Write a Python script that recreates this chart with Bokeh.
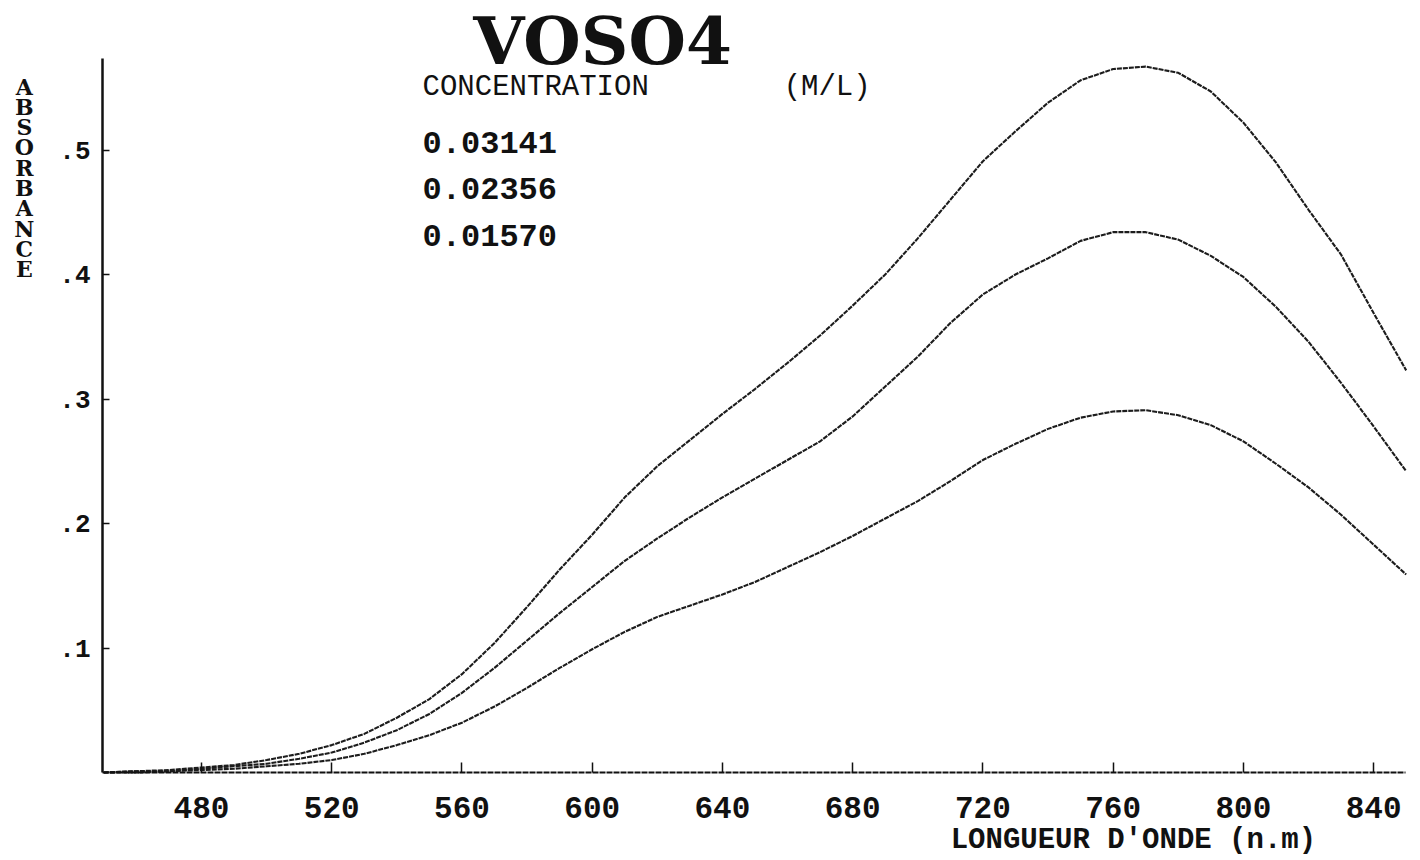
from bokeh.plotting import figure
from bokeh.models import FixedTicker, CustomJSTickFormatter, Label, Range1d, LinearAxis
from bokeh.embed import file_html
from bokeh.resources import INLINE

# Absorption spectra of VOSO4 solutions
wavelength = [450, 460, 470, 480, 490, 500, 510, 520, 530, 540,
              550, 560, 570, 580, 590, 600, 610, 620, 630, 640,
              650, 660, 670, 680, 690, 700, 710, 720, 730, 740,
              750, 760, 770, 780, 790, 800, 810, 820, 830, 840, 850]

abs_03141 = [0.000, 0.001, 0.002, 0.004, 0.006, 0.010, 0.015, 0.022, 0.031, 0.044,
             0.059, 0.079, 0.104, 0.133, 0.163, 0.191, 0.221, 0.246, 0.267, 0.288,
             0.308, 0.329, 0.351, 0.375, 0.400, 0.429, 0.460, 0.491, 0.515, 0.538,
             0.556, 0.565, 0.567, 0.562, 0.547, 0.522, 0.490, 0.452, 0.416, 0.369, 0.323]

abs_02356 = [0.000, 0.001, 0.001, 0.003, 0.005, 0.007, 0.011, 0.016, 0.024, 0.034,
             0.047, 0.064, 0.084, 0.106, 0.128, 0.149, 0.170, 0.188, 0.205, 0.221,
             0.236, 0.251, 0.266, 0.286, 0.310, 0.334, 0.361, 0.384, 0.400, 0.413,
             0.427, 0.434, 0.434, 0.428, 0.415, 0.398, 0.374, 0.346, 0.313, 0.278, 0.242]

abs_01570 = [0.000, 0.000, 0.001, 0.002, 0.003, 0.005, 0.007, 0.010, 0.015, 0.022,
             0.030, 0.040, 0.053, 0.068, 0.084, 0.099, 0.113, 0.125, 0.134, 0.143,
             0.153, 0.165, 0.177, 0.190, 0.204, 0.218, 0.234, 0.251, 0.264, 0.276,
             0.285, 0.290, 0.291, 0.287, 0.279, 0.266, 0.248, 0.229, 0.207, 0.183, 0.159]

concentrations = ["0.03141", "0.02356", "0.01570"]
series = [abs_03141, abs_02356, abs_01570]

x_ticks = [480, 520, 560, 600, 640, 680, 720, 760, 800, 840]
y_ticks = [0.1, 0.2, 0.3, 0.4, 0.5]

X_START, X_END = 449.6, 849.8
Y_START, Y_END = 0.0, 0.5735
MONO = "Liberation Mono"
INK = "#111111"

# The frame fills the page; the axes sit at fixed data positions inside it
p = figure(width=1420, height=860,
           x_range=Range1d(418.27, 854.4), y_range=Range1d(-0.07068, 0.62008),
           x_axis_location=None, y_axis_location=None,
           output_backend="svg", toolbar_location=None,
           min_border_left=0, min_border_right=0,
           min_border_top=0, min_border_bottom=0)
p.outline_line_color = None
p.background_fill_color = "white"
p.border_fill_color = "white"
p.xgrid.visible = False
p.ygrid.visible = False

for ys in series:
    p.line(wavelength, ys, line_color="#1c1c1c", line_width=2.1, line_dash="5 1")

# x axis: inward ticks, dotted baseline
xa = LinearAxis(fixed_location=Y_START, bounds=(X_START, X_END))
xa.ticker = FixedTicker(ticks=x_ticks, minor_ticks=[])
xa.axis_line_color = INK
xa.axis_line_width = 2
xa.axis_line_dash = "6 1"
xa.major_tick_in = 10
xa.major_tick_out = 0
xa.major_tick_line_color = INK
xa.major_tick_line_width = 1.5
xa.minor_tick_line_color = None
xa.major_label_standoff = 24
xa.major_label_text_font = MONO
xa.major_label_text_font_style = "bold"
xa.major_label_text_font_size = "31px"
xa.major_label_text_color = INK
p.add_layout(xa, "below")

# y axis: solid line, inward ticks, labels like ".5"
ya = LinearAxis(fixed_location=X_START, bounds=(Y_START, Y_END))
ya.ticker = FixedTicker(ticks=y_ticks, minor_ticks=[])
ya.formatter = CustomJSTickFormatter(code='return tick.toFixed(1).replace(/^0/, "");')
ya.axis_line_color = INK
ya.axis_line_width = 2.5
ya.major_tick_in = 7
ya.major_tick_out = 0
ya.major_tick_line_color = INK
ya.major_tick_line_width = 1.5
ya.minor_tick_line_color = None
ya.major_label_standoff = 12
ya.major_label_text_font = MONO
ya.major_label_text_font_style = "bold"
ya.major_label_text_font_size = "26px"
ya.major_label_text_color = INK
p.add_layout(ya, "left")

# title and concentration legend
p.add_layout(Label(x=603.2, y=0.5876, text="VOSO4", text_align="center",
                   text_baseline="middle", text_font="DejaVu Serif",
                   text_font_style="bold", text_font_size="66px", text_color=INK))
p.add_layout(Label(x=547.9, y=0.5498, text="CONCENTRATION", text_align="left",
                   text_baseline="middle", text_font=MONO,
                   text_font_size="29px", text_color=INK))
p.add_layout(Label(x=658.8, y=0.5498, text="(M/L)", text_align="left",
                   text_baseline="middle", text_font=MONO,
                   text_font_size="29px", text_color=INK))
for txt, yc in zip(concentrations, [0.5064, 0.4687, 0.4313]):
    p.add_layout(Label(x=547.9, y=yc, text=txt, text_align="left",
                       text_baseline="middle", text_font=MONO,
                       text_font_style="bold", text_font_size="32px",
                       text_color=INK))

# axis titles
p.add_layout(Label(x=710.1, y=-0.0546, text="LONGUEUR D'ONDE (n.m)", text_align="left",
                   text_baseline="middle", text_font=MONO, text_font_style="bold",
                   text_font_size="29px", text_color=INK))
p.add_layout(Label(x=425.6, y=0.5614, text="\n".join("ABSORBANCE"), text_align="center",
                   text_baseline="top", text_font="DejaVu Serif", text_font_style="bold",
                   text_font_size="22px", text_line_height=0.78, text_color=INK))

open("out.html", "w").write(file_html(p, INLINE))
